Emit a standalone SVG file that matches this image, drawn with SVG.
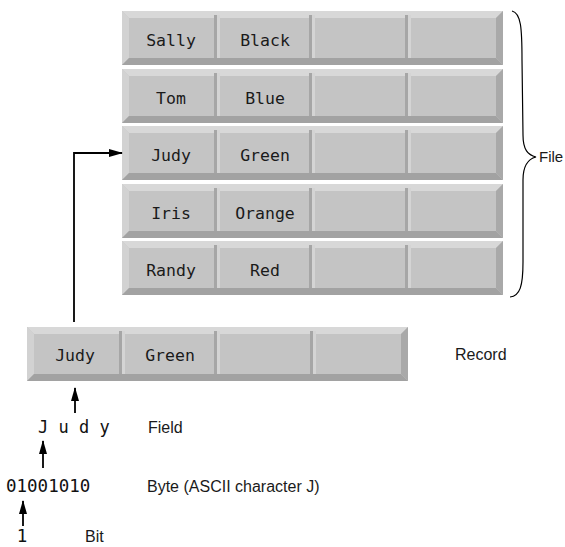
<svg xmlns="http://www.w3.org/2000/svg" xmlns:xlink="http://www.w3.org/1999/xlink" width="565" height="547" viewBox="0 0 565 547">
<style>
.cell{font-family:"DejaVu Sans Mono","Liberation Mono",monospace;font-size:16.5px;fill:#1a1a1a;text-anchor:middle}
.lbl{font-family:"Liberation Sans","DejaVu Sans",sans-serif;font-size:16px;fill:#1a1a1a}
.mono{font-family:"DejaVu Sans Mono","Liberation Mono",monospace;font-size:17px;fill:#111}
.conn{fill:none;stroke:#000;stroke-width:1.8}
</style>
<defs>
<marker id="ah" markerWidth="14" markerHeight="8" refX="13" refY="4" orient="auto" markerUnits="userSpaceOnUse">
<path d="M0,0 L14,4 L0,8 z" fill="#000"/>
</marker>
<g id="rowbg">
<rect x="0" y="0" width="381" height="54" fill="#c4c4c4"/>
<polygon points="0,0 381,0 374,7 7,7" fill="#d8d8d8"/>
<polygon points="0,0 7,7 7,47 0,54" fill="#d2d2d2"/>
<polygon points="0,54 7,47 374,47 381,54" fill="#a2a2a2"/>
<polygon points="381,0 374,7 374,47 381,54" fill="#a9a9a9"/>
<rect x="92" y="4" width="3" height="43" fill="#a6a6a6"/>
<rect x="95" y="4" width="3" height="43" fill="#d4d4d4"/>
<rect x="187" y="4" width="3" height="43" fill="#a6a6a6"/>
<rect x="190" y="4" width="3" height="43" fill="#d4d4d4"/>
<rect x="283" y="4" width="3" height="43" fill="#a6a6a6"/>
<rect x="286" y="4" width="3" height="43" fill="#d4d4d4"/>
</g>
</defs>

<g id="row-sally">
<use xlink:href="#rowbg" href="#rowbg" x="122" y="11"/>
<text class="cell" x="171" y="46">Sally</text>
<text class="cell" x="265" y="46">Black</text>
</g>
<g id="row-tom">
<use xlink:href="#rowbg" href="#rowbg" x="122" y="69"/>
<text class="cell" x="171" y="104">Tom</text>
<text class="cell" x="265" y="104">Blue</text>
</g>
<g id="row-judy">
<use xlink:href="#rowbg" href="#rowbg" x="122" y="126"/>
<text class="cell" x="171" y="161">Judy</text>
<text class="cell" x="265" y="161">Green</text>
</g>
<g id="row-iris">
<use xlink:href="#rowbg" href="#rowbg" x="122" y="184"/>
<text class="cell" x="171" y="219">Iris</text>
<text class="cell" x="265" y="219">Orange</text>
</g>
<g id="row-randy">
<use xlink:href="#rowbg" href="#rowbg" x="122" y="241"/>
<text class="cell" x="171" y="276">Randy</text>
<text class="cell" x="265" y="276">Red</text>
</g>

<g id="file-brace">
<path d="M512,11 C521,13 522,28 522,60 L523,135 C523,150 528,155 536,157 C528,159 523,165 523,180 L523,262 C523,286 520,296 510,297" fill="none" stroke="#000" stroke-width="1.2"/>
<text class="lbl" x="539" y="162" style="font-size:15px">File</text>
</g>

<g id="record">
<use xlink:href="#rowbg" href="#rowbg" x="27" y="327"/>
<text class="cell" x="75" y="361">Judy</text>
<text class="cell" x="170" y="361">Green</text>
<text class="lbl" x="455" y="360">Record</text>
</g>

<g id="field">
<text class="mono" x="38" y="433" xml:space="preserve">J u d y</text>
<text class="lbl" x="148" y="433">Field</text>
</g>

<g id="byte">
<text class="mono" x="6" y="492" style="font-size:17.5px">01001010</text>
<text class="lbl" x="147" y="492">Byte (ASCII character J)</text>
</g>

<g id="bit">
<text class="mono" x="22" y="542" style="font-size:17.5px;text-anchor:middle">1</text>
<text class="lbl" x="85" y="542">Bit</text>
</g>

<g id="connectors">
<path class="conn" d="M74,322 V153 H122" marker-end="url(#ah)"/>
<path class="conn" d="M75,413 V388" marker-end="url(#ah)"/>
<path class="conn" d="M43,468 V441" marker-end="url(#ah)"/>
<path class="conn" d="M23,526 V501" marker-end="url(#ah)"/>
</g>
</svg>
